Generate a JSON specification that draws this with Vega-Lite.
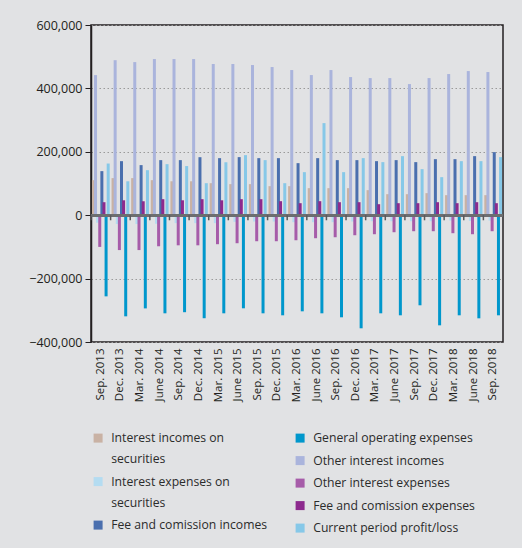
{
  "$schema": "https://vega.github.io/schema/vega-lite/v6.json",
  "width": 412,
  "height": 317,
  "autosize": {"type": "none"},
  "padding": {"left": 91, "top": 25, "right": 19, "bottom": 206},
  "background": "#e1e2e4",
  "config": {
    "font": "Open Sans",
    "view": {"stroke": "#231f20", "strokeWidth": 1.5},
    "legend": {
      "symbolType": "square",
      "symbolSize": 81,
      "symbolStrokeWidth": 0,
      "labelFontSize": 12.2,
      "labelColor": "#2b2b2b",
      "labelOffset": 7,
      "rowPadding": 9.5,
      "padding": 0,
      "labelBaseline": "top",
      "labelLimit": 300
    }
  },
  "data": {
    "values": [
      {"q":"Sep. 2013","s":"Interest incomes on securities","v":110500},{"q":"Sep. 2013","s":"Other interest incomes","v":442000},{"q":"Sep. 2013","s":"Interest expenses on securities","v":-24000},{"q":"Sep. 2013","s":"Other interest expenses","v":-100000},{"q":"Sep. 2013","s":"Fee and comission incomes","v":139000},{"q":"Sep. 2013","s":"Fee and comission expenses","v":41000},{"q":"Sep. 2013","s":"General operating expenses","v":-256000},{"q":"Sep. 2013","s":"Current period profit/loss","v":163000},
      {"q":"Dec. 2013","s":"Interest incomes on securities","v":117000},{"q":"Dec. 2013","s":"Other interest incomes","v":489000},{"q":"Dec. 2013","s":"Interest expenses on securities","v":-28000},{"q":"Dec. 2013","s":"Other interest expenses","v":-110000},{"q":"Dec. 2013","s":"Fee and comission incomes","v":170500},{"q":"Dec. 2013","s":"Fee and comission expenses","v":47000},{"q":"Dec. 2013","s":"General operating expenses","v":-319000},{"q":"Dec. 2013","s":"Current period profit/loss","v":107000},
      {"q":"Mar. 2014","s":"Interest incomes on securities","v":117000},{"q":"Mar. 2014","s":"Other interest incomes","v":483000},{"q":"Mar. 2014","s":"Interest expenses on securities","v":-28000},{"q":"Mar. 2014","s":"Other interest expenses","v":-110000},{"q":"Mar. 2014","s":"Fee and comission incomes","v":158000},{"q":"Mar. 2014","s":"Fee and comission expenses","v":44000},{"q":"Mar. 2014","s":"General operating expenses","v":-294000},{"q":"Mar. 2014","s":"Current period profit/loss","v":142000},
      {"q":"June 2014","s":"Interest incomes on securities","v":110500},{"q":"June 2014","s":"Other interest incomes","v":492600},{"q":"June 2014","s":"Interest expenses on securities","v":-27000},{"q":"June 2014","s":"Other interest expenses","v":-98000},{"q":"June 2014","s":"Fee and comission incomes","v":173700},{"q":"June 2014","s":"Fee and comission expenses","v":50500},{"q":"June 2014","s":"General operating expenses","v":-309500},{"q":"June 2014","s":"Current period profit/loss","v":161000},
      {"q":"Sep. 2014","s":"Interest incomes on securities","v":107000},{"q":"Sep. 2014","s":"Other interest incomes","v":492600},{"q":"Sep. 2014","s":"Interest expenses on securities","v":-25000},{"q":"Sep. 2014","s":"Other interest expenses","v":-95000},{"q":"Sep. 2014","s":"Fee and comission incomes","v":173700},{"q":"Sep. 2014","s":"Fee and comission expenses","v":47000},{"q":"Sep. 2014","s":"General operating expenses","v":-306000},{"q":"Sep. 2014","s":"Current period profit/loss","v":155000},
      {"q":"Dec. 2014","s":"Interest incomes on securities","v":107000},{"q":"Dec. 2014","s":"Other interest incomes","v":492600},{"q":"Dec. 2014","s":"Interest expenses on securities","v":-25000},{"q":"Dec. 2014","s":"Other interest expenses","v":-95000},{"q":"Dec. 2014","s":"Fee and comission incomes","v":183000},{"q":"Dec. 2014","s":"Fee and comission expenses","v":50500},{"q":"Dec. 2014","s":"General operating expenses","v":-325000},{"q":"Dec. 2014","s":"Current period profit/loss","v":101000},
      {"q":"Mar. 2015","s":"Interest incomes on securities","v":101000},{"q":"Mar. 2015","s":"Other interest incomes","v":477000},{"q":"Mar. 2015","s":"Interest expenses on securities","v":-25000},{"q":"Mar. 2015","s":"Other interest expenses","v":-91500},{"q":"Mar. 2015","s":"Fee and comission incomes","v":180000},{"q":"Mar. 2015","s":"Fee and comission expenses","v":47000},{"q":"Mar. 2015","s":"General operating expenses","v":-309500},{"q":"Mar. 2015","s":"Current period profit/loss","v":167000},
      {"q":"June 2015","s":"Interest incomes on securities","v":98000},{"q":"June 2015","s":"Other interest incomes","v":477000},{"q":"June 2015","s":"Interest expenses on securities","v":-21000},{"q":"June 2015","s":"Other interest expenses","v":-88400},{"q":"June 2015","s":"Fee and comission incomes","v":183200},{"q":"June 2015","s":"Fee and comission expenses","v":50500},{"q":"June 2015","s":"General operating expenses","v":-293700},{"q":"June 2015","s":"Current period profit/loss","v":189500},
      {"q":"Sep. 2015","s":"Interest incomes on securities","v":98000},{"q":"Sep. 2015","s":"Other interest incomes","v":473700},{"q":"Sep. 2015","s":"Interest expenses on securities","v":-20000},{"q":"Sep. 2015","s":"Other interest expenses","v":-82100},{"q":"Sep. 2015","s":"Fee and comission incomes","v":180000},{"q":"Sep. 2015","s":"Fee and comission expenses","v":50500},{"q":"Sep. 2015","s":"General operating expenses","v":-309500},{"q":"Sep. 2015","s":"Current period profit/loss","v":173700},
      {"q":"Dec. 2015","s":"Interest incomes on securities","v":91600},{"q":"Dec. 2015","s":"Other interest incomes","v":467400},{"q":"Dec. 2015","s":"Interest expenses on securities","v":-20000},{"q":"Dec. 2015","s":"Other interest expenses","v":-82100},{"q":"Dec. 2015","s":"Fee and comission incomes","v":180000},{"q":"Dec. 2015","s":"Fee and comission expenses","v":44200},{"q":"Dec. 2015","s":"General operating expenses","v":-315800},{"q":"Dec. 2015","s":"Current period profit/loss","v":101000},
      {"q":"Mar. 2016","s":"Interest incomes on securities","v":91600},{"q":"Mar. 2016","s":"Other interest incomes","v":457900},{"q":"Mar. 2016","s":"Interest expenses on securities","v":-22000},{"q":"Mar. 2016","s":"Other interest expenses","v":-79000},{"q":"Mar. 2016","s":"Fee and comission incomes","v":164200},{"q":"Mar. 2016","s":"Fee and comission expenses","v":37900},{"q":"Mar. 2016","s":"General operating expenses","v":-303200},{"q":"Mar. 2016","s":"Current period profit/loss","v":135800},
      {"q":"June 2016","s":"Interest incomes on securities","v":85300},{"q":"June 2016","s":"Other interest incomes","v":442100},{"q":"June 2016","s":"Interest expenses on securities","v":-22000},{"q":"June 2016","s":"Other interest expenses","v":-72600},{"q":"June 2016","s":"Fee and comission incomes","v":180000},{"q":"June 2016","s":"Fee and comission expenses","v":44200},{"q":"June 2016","s":"General operating expenses","v":-309500},{"q":"June 2016","s":"Current period profit/loss","v":290500},
      {"q":"Sep. 2016","s":"Interest incomes on securities","v":85300},{"q":"Sep. 2016","s":"Other interest incomes","v":457900},{"q":"Sep. 2016","s":"Interest expenses on securities","v":-22000},{"q":"Sep. 2016","s":"Other interest expenses","v":-69500},{"q":"Sep. 2016","s":"Fee and comission incomes","v":173700},{"q":"Sep. 2016","s":"Fee and comission expenses","v":41000},{"q":"Sep. 2016","s":"General operating expenses","v":-322100},{"q":"Sep. 2016","s":"Current period profit/loss","v":135800},
      {"q":"Dec. 2016","s":"Interest incomes on securities","v":85300},{"q":"Dec. 2016","s":"Other interest incomes","v":435800},{"q":"Dec. 2016","s":"Interest expenses on securities","v":-20000},{"q":"Dec. 2016","s":"Other interest expenses","v":-63200},{"q":"Dec. 2016","s":"Fee and comission incomes","v":173700},{"q":"Dec. 2016","s":"Fee and comission expenses","v":41000},{"q":"Dec. 2016","s":"General operating expenses","v":-356800},{"q":"Dec. 2016","s":"Current period profit/loss","v":180000},
      {"q":"Mar. 2017","s":"Interest incomes on securities","v":79000},{"q":"Mar. 2017","s":"Other interest incomes","v":432600},{"q":"Mar. 2017","s":"Interest expenses on securities","v":-19000},{"q":"Mar. 2017","s":"Other interest expenses","v":-60000},{"q":"Mar. 2017","s":"Fee and comission incomes","v":170500},{"q":"Mar. 2017","s":"Fee and comission expenses","v":34700},{"q":"Mar. 2017","s":"General operating expenses","v":-309500},{"q":"Mar. 2017","s":"Current period profit/loss","v":167400},
      {"q":"June 2017","s":"Interest incomes on securities","v":66300},{"q":"June 2017","s":"Other interest incomes","v":432600},{"q":"June 2017","s":"Interest expenses on securities","v":-19000},{"q":"June 2017","s":"Other interest expenses","v":-53700},{"q":"June 2017","s":"Fee and comission incomes","v":173700},{"q":"June 2017","s":"Fee and comission expenses","v":37900},{"q":"June 2017","s":"General operating expenses","v":-315800},{"q":"June 2017","s":"Current period profit/loss","v":186300},
      {"q":"Sep. 2017","s":"Interest incomes on securities","v":66300},{"q":"Sep. 2017","s":"Other interest incomes","v":413700},{"q":"Sep. 2017","s":"Interest expenses on securities","v":-19000},{"q":"Sep. 2017","s":"Other interest expenses","v":-50500},{"q":"Sep. 2017","s":"Fee and comission incomes","v":167400},{"q":"Sep. 2017","s":"Fee and comission expenses","v":37900},{"q":"Sep. 2017","s":"General operating expenses","v":-284200},{"q":"Sep. 2017","s":"Current period profit/loss","v":145300},
      {"q":"Dec. 2017","s":"Interest incomes on securities","v":69500},{"q":"Dec. 2017","s":"Other interest incomes","v":432600},{"q":"Dec. 2017","s":"Interest expenses on securities","v":-19000},{"q":"Dec. 2017","s":"Other interest expenses","v":-50500},{"q":"Dec. 2017","s":"Fee and comission incomes","v":176800},{"q":"Dec. 2017","s":"Fee and comission expenses","v":41000},{"q":"Dec. 2017","s":"General operating expenses","v":-347400},{"q":"Dec. 2017","s":"Current period profit/loss","v":120000},
      {"q":"Mar. 2018","s":"Interest incomes on securities","v":63200},{"q":"Mar. 2018","s":"Other interest incomes","v":445300},{"q":"Mar. 2018","s":"Interest expenses on securities","v":-17000},{"q":"Mar. 2018","s":"Other interest expenses","v":-56800},{"q":"Mar. 2018","s":"Fee and comission incomes","v":176800},{"q":"Mar. 2018","s":"Fee and comission expenses","v":37900},{"q":"Mar. 2018","s":"General operating expenses","v":-315800},{"q":"Mar. 2018","s":"Current period profit/loss","v":170500},
      {"q":"June 2018","s":"Interest incomes on securities","v":63200},{"q":"June 2018","s":"Other interest incomes","v":454700},{"q":"June 2018","s":"Interest expenses on securities","v":-18000},{"q":"June 2018","s":"Other interest expenses","v":-60000},{"q":"June 2018","s":"Fee and comission incomes","v":186300},{"q":"June 2018","s":"Fee and comission expenses","v":41000},{"q":"June 2018","s":"General operating expenses","v":-325300},{"q":"June 2018","s":"Current period profit/loss","v":170500},
      {"q":"Sep. 2018","s":"Interest incomes on securities","v":63200},{"q":"Sep. 2018","s":"Other interest incomes","v":451600},{"q":"Sep. 2018","s":"Interest expenses on securities","v":-17000},{"q":"Sep. 2018","s":"Other interest expenses","v":-50500},{"q":"Sep. 2018","s":"Fee and comission incomes","v":198900},{"q":"Sep. 2018","s":"Fee and comission expenses","v":37900},{"q":"Sep. 2018","s":"General operating expenses","v":-315800},{"q":"Sep. 2018","s":"Current period profit/loss","v":183200}
    ]
  },
  "layer": [
    {
      "transform": [{"filter": {"field": "s", "oneOf": ["Interest incomes on securities", "Interest expenses on securities", "Fee and comission incomes"]}}],
      "mark": {"type": "bar", "width": 3},
      "encoding": {
        "x": {"field": "q", "type": "nominal", "sort": null, "scale": {"paddingInner": 0, "paddingOuter": 0},
          "axis": {"title": null, "labelAngle": -90, "labelFontSize": 11.5, "labelColor": "#231f20", "ticks": false, "domain": false, "labelPadding": 6, "grid": false}},
        "xOffset": {"field": "s", "type": "nominal", "scale": {"domain": ["Interest incomes on securities", "Other interest incomes", "Interest expenses on securities", "Other interest expenses", "Fee and comission incomes", "Fee and comission expenses", "General operating expenses", "Current period profit/loss"], "paddingInner": 0, "paddingOuter": 0.65}},
        "y": {"field": "v", "type": "quantitative", "scale": {"domain": [-400000, 600000], "nice": false},
          "axis": {"title": null, "values": [-400000, -200000, 0, 200000, 400000, 600000], "format": ",.0f", "labelFontSize": 12.5, "labelColor": "#231f20", "tickSize": 6, "tickColor": "#231f20", "domainColor": "#231f20", "domainWidth": 1.5, "grid": true, "gridDash": [1.5, 2.5], "gridColor": "#9a9a9a", "gridWidth": 1, "labelPadding": 3}},
        "color": {"field": "s", "type": "nominal",
          "scale": {"domain": ["Interest incomes on securities", "Interest expenses on securities", "Fee and comission incomes"], "range": ["#c9b2a4", "#b4dcf1", "#4a6fae"]},
          "legend": {"title": null, "orient": "none", "legendX": 1, "legendY": 407,
            "labelExpr": "datum.label == 'Interest incomes on securities' ? ['Interest incomes on', 'securities'] : datum.label == 'Interest expenses on securities' ? ['Interest expenses on', 'securities'] : datum.label",
            "encode": {"labels": {"update": {"dy": {"value": -6}, "lineHeight": {"value": 21.3}}}}}}
      }
    },
    {
      "transform": [{"filter": {"field": "s", "oneOf": ["Other interest incomes", "Other interest expenses", "Fee and comission expenses", "General operating expenses", "Current period profit/loss"]}}],
      "mark": {"type": "bar", "width": 3},
      "encoding": {
        "x": {"field": "q", "type": "nominal", "sort": null},
        "xOffset": {"field": "s", "type": "nominal"},
        "y": {"field": "v", "type": "quantitative"},
        "color": {"field": "s", "type": "nominal",
          "scale": {"domain": ["General operating expenses", "Other interest incomes", "Other interest expenses", "Fee and comission expenses", "Current period profit/loss"], "range": ["#0097cc", "#aab4dc", "#a65ca9", "#8d2a8e", "#86c8e8"]},
          "legend": {"title": null, "orient": "none", "legendX": 203, "legendY": 407,
            "encode": {"labels": {"update": {"dy": {"value": -6}, "lineHeight": {"value": 21.3}}}}}}
      }
    },
    {
      "mark": {"type": "rule", "color": "#6d6e70", "strokeWidth": 2},
      "encoding": {"y": {"datum": 0}}
    },
    {
      "transform": [{"filter": {"field": "s", "equal": "Interest incomes on securities"}}],
      "mark": {"type": "rule", "color": "#58595b", "strokeWidth": 1.5},
      "encoding": {
        "x": {"field": "q", "type": "nominal", "sort": null, "bandPosition": 0},
        "y": {"datum": 0},
        "y2": {"datum": -16000}
      }
    }
  ],
  "resolve": {"scale": {"color": "independent"}}
}
